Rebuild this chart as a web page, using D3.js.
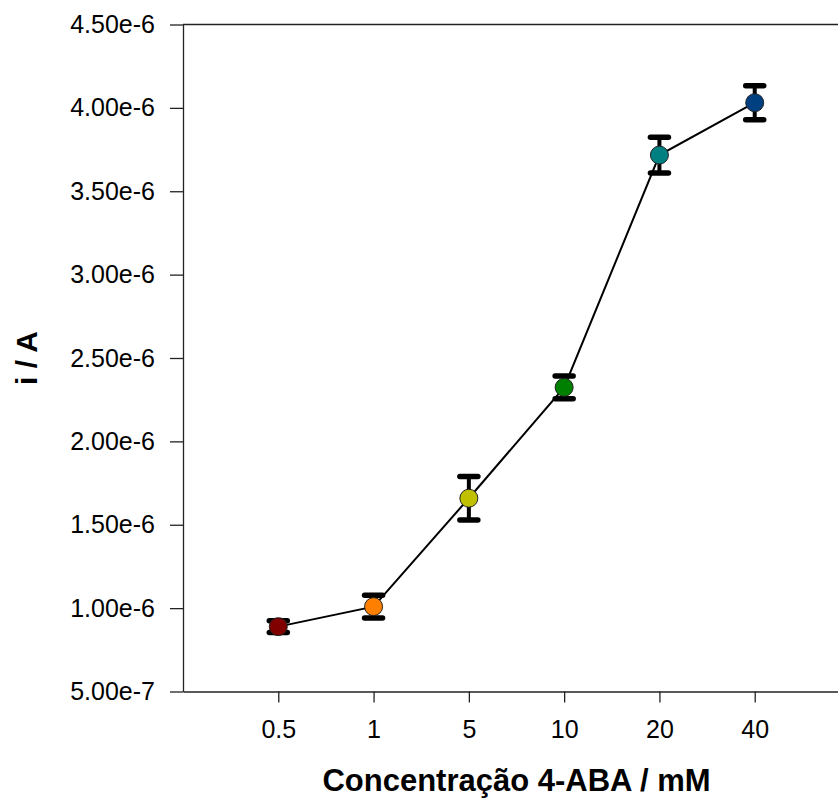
<!DOCTYPE html>
<html>
<head>
<meta charset="utf-8">
<script src="https://cdn.jsdelivr.net/npm/d3@7"></script>
<style>
  body { margin: 0; background: #fff; }
  svg { display: block; font-family: "Liberation Sans", Arial, sans-serif; }
</style>
</head>
<body>
<div class="chartContainer"></div>
<script>
// data
const categories = ["0.5", "1", "5", "10", "20", "40"];
const current = [0.889e-6, 1.009e-6, 1.659e-6, 2.324e-6, 3.717e-6, 4.031e-6];
const errors = [0.035e-6, 0.068e-6, 0.131e-6, 0.068e-6, 0.107e-6, 0.102e-6];
const colors = ["#800000", "#ff8000", "#c0c000", "#008000", "#008080", "#004080"];
const yTicks = [5e-7, 1e-6, 1.5e-6, 2e-6, 2.5e-6, 3e-6, 3.5e-6, 4e-6, 4.5e-6];

let width = 838;
let height = 800;
let margin = ({top: 24.5, right: -12, bottom: 108.5, left: 183});

const data = categories.map((c, i) => ({cat: c, idx: i + 1, y: current[i], err: errors[i], color: colors[i]}));

let x = d3.scaleLinear()
  .domain([0, 7])
  .range([margin.left, width - margin.right]);

let y = d3.scaleLinear()
  .domain([5e-7, 4.5e-6])
  .range([height - margin.bottom, margin.top]);

const svg = d3.select('.chartContainer').append("svg")
  .attr("width", width)
  .attr("height", height);

let yAxis = g => g
  .attr("transform", `translate(${margin.left},0)`)
  .call(d3.axisLeft(y).tickValues(yTicks).tickSize(13).tickSizeOuter(0).tickPadding(15)
    .tickFormat(d => d3.format(".2e")(d).replace(/e([+-])(\d+)/, (m, s, n) => "e" + (s === "-" ? "-" : "") + n)))
  .call(g => g.selectAll("text").attr("font-size", 25).attr("fill", "#000")
    .attr("font-family", "Liberation Sans, Arial, sans-serif"))
  .call(g => g.selectAll("line, path").attr("stroke", "#222").attr("stroke-width", 1.3));

let xAxis = g => g
  .attr("transform", `translate(0,${height - margin.bottom})`)
  .call(d3.axisBottom(x).tickValues(data.map(d => d.idx)).tickFormat((d, i) => categories[i])
    .tickSize(11).tickSizeOuter(0).tickPadding(18))
  .call(g => g.selectAll("text").attr("font-size", 25).attr("fill", "#000")
    .attr("font-family", "Liberation Sans, Arial, sans-serif"))
  .call(g => g.selectAll("line, path").attr("stroke", "#222").attr("stroke-width", 1.3));

svg.append("g").call(xAxis);
svg.append("g").call(yAxis);

// top frame line
svg.append("line")
  .attr("x1", margin.left).attr("x2", x(7))
  .attr("y1", y(4.5e-6)).attr("y2", y(4.5e-6))
  .attr("stroke", "#222").attr("stroke-width", 1.3);

let line = d3.line()
  .x(d => x(d.idx))
  .y(d => y(d.y));

svg.append("path")
  .datum(data)
  .attr("fill", "none")
  .attr("stroke", "#000")
  .attr("stroke-width", 2)
  .attr("d", line);

// error bars
const eb = svg.append("g").selectAll("g").data(data).join("g");
eb.append("line")
  .attr("x1", d => x(d.idx)).attr("x2", d => x(d.idx))
  .attr("y1", d => y(d.y - d.err)).attr("y2", d => y(d.y + d.err))
  .attr("stroke", "#000").attr("stroke-width", 4);
eb.selectAll(".cap").data(d => [[d.idx, d.y - d.err], [d.idx, d.y + d.err]]).join("line")
  .attr("class", "cap")
  .attr("x1", d => x(d[0]) - 9).attr("x2", d => x(d[0]) + 9)
  .attr("y1", d => y(d[1])).attr("y2", d => y(d[1]))
  .attr("stroke", "#000").attr("stroke-width", 5.5).attr("stroke-linecap", "round");

svg.append("g").selectAll("circle").data(data).join("circle")
  .attr("cx", d => x(d.idx))
  .attr("cy", d => y(d.y))
  .attr("r", 9)
  .attr("fill", d => d.color)
  .attr("stroke", "#222")
  .attr("stroke-width", 1);

// axis titles
svg.append("text")
  .attr("x", (margin.left + x(7)) / 2)
  .attr("y", 791)
  .attr("text-anchor", "middle")
  .attr("font-size", 31)
  .attr("font-weight", "bold")
  .text("Concentração 4-ABA / mM");

svg.append("text")
  .attr("transform", `translate(37,${(y(5e-7) + y(4.5e-6)) / 2}) rotate(-90)`)
  .attr("text-anchor", "middle")
  .attr("font-size", 30)
  .attr("font-weight", "bold")
  .text("i / A");
</script>
</body>
</html>
